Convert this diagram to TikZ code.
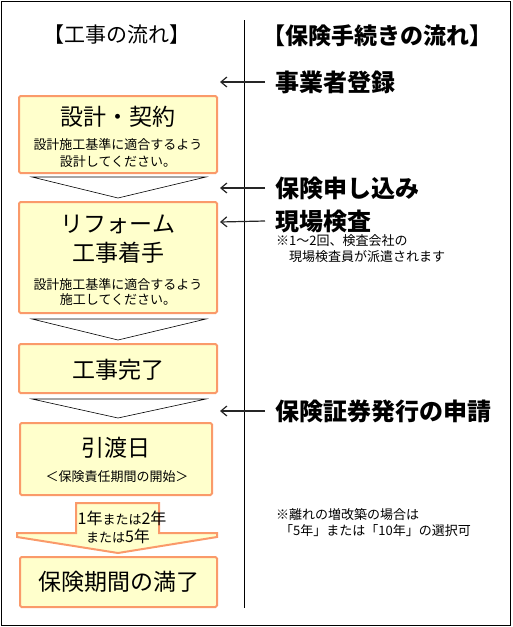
\documentclass[tikz,border=0pt]{standalone}
\usepackage{fontspec}
\setmainfont{Noto Sans CJK JP}
\usetikzlibrary{arrows.meta}
\definecolor{boxfill}{HTML}{FFFFCC}
\definecolor{boxline}{HTML}{FA9A6A}
\begin{document}
\begin{tikzpicture}[x=1pt,y=-1pt,
  flowbox/.style={draw=boxline,fill=boxfill,line width=2pt,rounded corners=1.5pt},
  chev/.style={draw=black,fill=white,line width=0.6pt},
  ttl/.style={font=\fontsize{21}{24}\selectfont,anchor=center,inner sep=0pt},
  big/.style={font=\fontsize{23}{27}\selectfont,anchor=center,inner sep=0pt},
  small/.style={font=\fontsize{13}{15}\selectfont,anchor=center,inner sep=0pt},
  proc/.style={font=\bfseries\fontsize{24}{28}\selectfont,anchor=west,inner sep=0pt},
  note/.style={font=\fontsize{13}{15}\selectfont,anchor=west,inner sep=0pt},
  larr/.style={-{Straight Barb[length=6pt,width=10pt]},line width=1.2pt,draw=black!85}]
\useasboundingbox (0,0) rectangle (512,627);
\draw[line width=1pt] (1,1) rectangle (510,625);
% divider
\coordinate (vt) at (244,20);
\coordinate (vb) at (244,608);
\draw[line width=0.8pt] (vt) -- (vb);
% titles
\node[ttl] (tl) at (117,35) {【工事の流れ】};
\node[ttl,font=\bfseries\fontsize{23}{26}\selectfont] (tr) at (377,36) {【保険手続きの流れ】};
% boxes
\draw[flowbox] (19,96) rectangle (217,173);
\node[big] (b1) at (118,117) {設計・契約};
\node[small] (b1a) at (118,145) {設計施工基準に適合するよう};
\node[small] (b1b) at (118,162) {設計してください。};
\draw[chev] (32,177) -- (206,177) -- (118,198) -- cycle;
\draw[flowbox] (19,202) rectangle (217,313);
\node[big] (b2) at (118,224) {リフォーム};
\node[big] (b2b) at (118,253) {工事着手};
\node[small] (b2c) at (118,285) {設計施工基準に適合するよう};
\node[small] (b2d) at (118,300) {施工してください。};
\draw[chev] (32,319) -- (206,319) -- (118,340) -- cycle;
\draw[flowbox] (19,344) rectangle (217,393);
\node[big] (b3) at (118,370) {工事完了};
\draw[chev] (32,399) -- (206,399) -- (118,418) -- cycle;
\draw[flowbox] (20,423) rectangle (212,495);
\node[big] (b4) at (116,448) {引渡日};
\node[small] (b4a) at (117,477) {＜保険責任期間の開始＞};
% big arrow
\draw[flowbox,rounded corners=0pt,line join=miter] (76,503) -- (159,503) -- (159,533) -- (217,533) -- (217,537) -- (118,553) -- (17,537) -- (17,533) -- (76,533) -- cycle;
\node[inner sep=0pt,anchor=center] (ar1) at (122,518) {\fontsize{16}{18}\selectfont 1年{\fontsize{13}{15}\selectfont または}2年};
\node[inner sep=0pt,anchor=center] (ar2) at (118,536) {{\fontsize{13}{15}\selectfont または}\fontsize{16}{18}\selectfont 5年};
\draw[flowbox] (20,557) rectangle (217,607);
\node[big] (b5) at (119,582) {保険期間の満了};
% right side
\node[proc] (p1) at (275,82) {事業者登録};
\node[proc] (p2) at (275,188) {保険申し込み};
\node[proc] (p3) at (275,221) {現場検査};
\node[note] (n1) at (276,241) {※1〜2回、検査会社の};
\node[note] (n2) at (289,257) {現場検査員が派遣されます};
\node[proc] (p4) at (275,411) {保険証券発行の申請};
\node[note] (n3) at (276,515) {※離れの増改築の場合は};
\node[note] (n4) at (280,531) {「5年」または「10年」の選択可};
\coordinate (a1) at (220,82);
\coordinate (a2) at (220,188);
\coordinate (a3) at (220,222);
\coordinate (a4) at (220,411);
\draw[larr] ([xshift=-10pt]p1.west) -- (a1);
\draw[larr] ([xshift=-10pt]p2.west) -- (a2);
\draw[larr] ([xshift=-10pt]p3.west) -- (a3);
\draw[larr] ([xshift=-10pt]p4.west) -- (a4);
\end{tikzpicture}
\end{document}
